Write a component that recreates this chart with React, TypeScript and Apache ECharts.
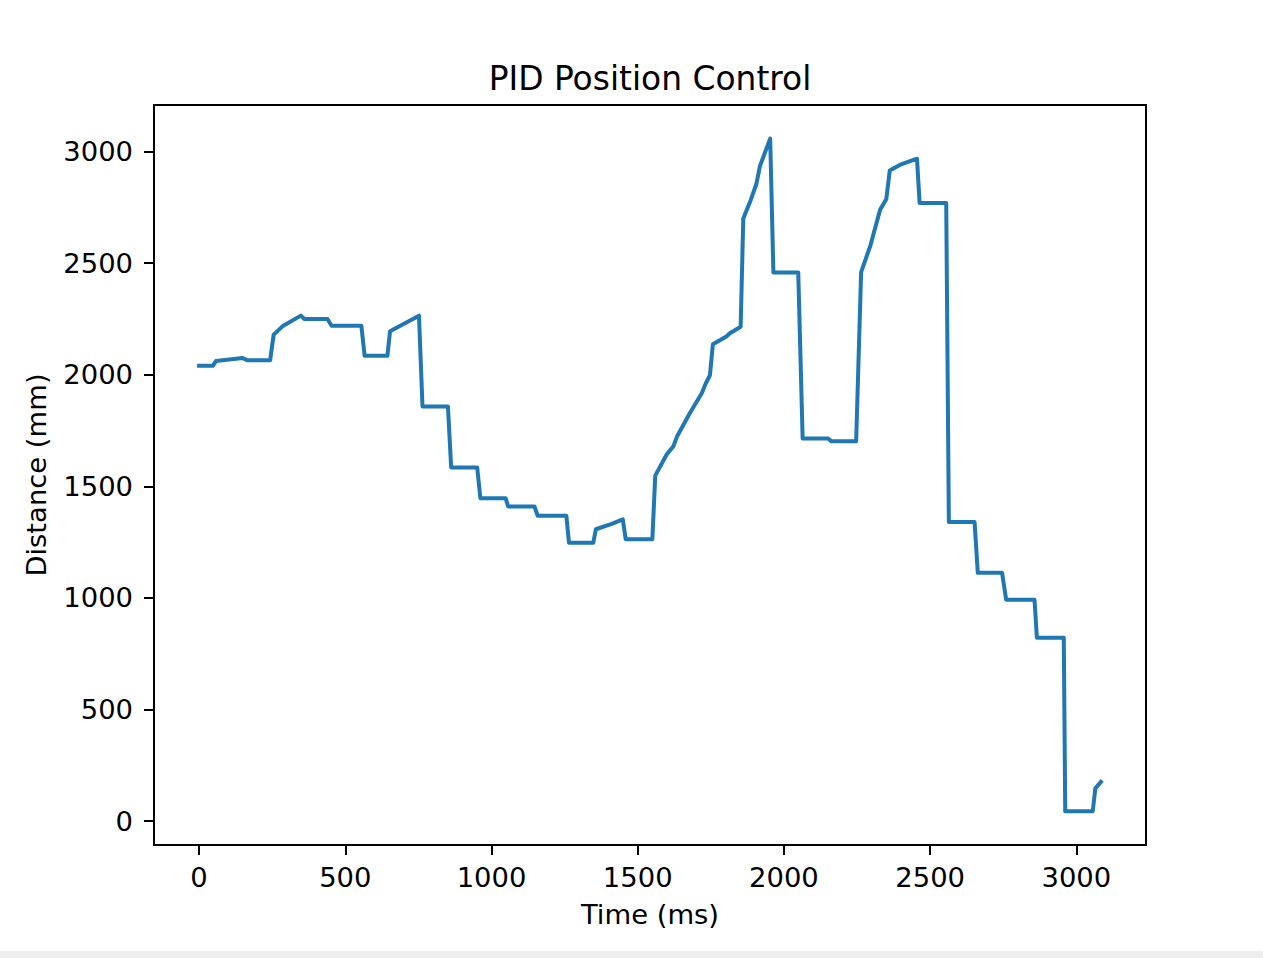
import React, { useEffect, useRef } from "react";
import * as echarts from "echarts";

const chartTitle = "PID Position Control";
const xAxisName = "Time (ms)";
const yAxisName = "Distance (mm)";

const timeMs = [
  0, 47, 58, 149, 164, 243, 255, 285, 348, 360, 439, 453, 555, 566, 644, 653, 712, 752, 764, 851,
  862, 951, 962, 1048, 1057, 1147, 1158, 1256, 1265, 1348, 1357, 1411, 1449, 1459, 1550, 1560,
  1599, 1622, 1634, 1679, 1719, 1733, 1747, 1757, 1803, 1814, 1852, 1861, 1886, 1906, 1918, 1953,
  1964, 2049, 2064, 2151, 2162, 2247, 2264, 2296, 2329, 2350, 2362, 2396, 2455, 2464, 2555, 2564,
  2652, 2663, 2746, 2760, 2857, 2865, 2957, 2962, 3056, 3065, 3084,
];

const distanceMm = [
  2040, 2040, 2062, 2075, 2065, 2065, 2180, 2217, 2265, 2250, 2250, 2220, 2220, 2085, 2085, 2195,
  2236, 2265, 1858, 1858, 1585, 1585, 1447, 1447, 1410, 1410, 1368, 1368, 1247, 1247, 1308, 1332,
  1352, 1263, 1263, 1548, 1643, 1680, 1722, 1830, 1917, 1962, 1998, 2137, 2171, 2185, 2215, 2700,
  2781, 2856, 2935, 3058, 2458, 2458, 1715, 1715, 1702, 1702, 2460, 2580, 2740, 2786, 2915, 2940,
  2968, 2770, 2770, 1340, 1340, 1113, 1113, 992, 992, 822, 822, 44, 44, 147, 176,
];

const xTicks = [0, 500, 1000, 1500, 2000, 2500, 3000];
const yTicks = [0, 500, 1000, 1500, 2000, 2500, 3000];

const FONT = '"DejaVu Sans", "Liberation Sans", sans-serif';

function paddedExtent(values: number[]): [number, number] {
  const mn = Math.min(...values);
  const mx = Math.max(...values);
  const p = (mx - mn) * 0.05;
  return [mn - p, mx + p];
}

export default function App() {
  const ref = useRef<HTMLDivElement>(null);

  useEffect(() => {
    if (!ref.current) return;
    const chart = echarts.init(ref.current, null, { renderer: "svg" });
    const data = timeMs.map((t, i) => [t, distanceMm[i]]);
    const [xMin, xMax] = paddedExtent(timeMs);
    const [yMin, yMax] = paddedExtent(distanceMm);

    const tickLabel = {
      color: "#000",
      fontFamily: FONT,
      fontSize: 27.4,
      lineHeight: 27.4,
      formatter: (v: number) => String(v),
    };

    chart.setOption({
      animation: false,
      backgroundColor: "#ffffff",
      grid: {
        left: 154,
        right: 117,
        top: 105,
        bottom: 106,
        show: true,
        borderColor: "#000",
        borderWidth: 2,
        backgroundColor: "transparent",
      },
      graphic: [
        {
          type: "text",
          x: 650,
          y: 78,
          style: {
            text: chartTitle,
            fontFamily: FONT,
            fontSize: 32.9,
            fill: "#000",
            align: "center",
            verticalAlign: "middle",
          },
        },
      ],
      xAxis: {
        type: "value",
        min: xMin,
        max: xMax,
        position: "bottom",
        name: xAxisName,
        nameLocation: "middle",
        nameGap: 56,
        nameTextStyle: { color: "#000", fontFamily: FONT, fontSize: 27.4, lineHeight: 27.4 },
        axisLine: { show: false, onZero: false },
        axisTick: {
          show: true,
          inside: false,
          length: 10,
          lineStyle: { color: "#000", width: 2 },
          customValues: xTicks,
        },
        axisLabel: { ...tickLabel, margin: 19, customValues: xTicks },
        splitLine: { show: false },
      },
      yAxis: {
        type: "value",
        min: yMin,
        max: yMax,
        position: "left",
        name: yAxisName,
        nameLocation: "middle",
        nameGap: 104,
        nameTextStyle: { color: "#000", fontFamily: FONT, fontSize: 27.4, lineHeight: 27.4 },
        axisLine: { show: false, onZero: false },
        axisTick: {
          show: true,
          inside: false,
          length: 10,
          lineStyle: { color: "#000", width: 2 },
          customValues: yTicks,
        },
        axisLabel: { ...tickLabel, margin: 21, customValues: yTicks },
        splitLine: { show: false },
      },
      series: [
        {
          type: "line",
          data,
          showSymbol: false,
          symbol: "none",
          lineStyle: { color: "#1f77b4", width: 4, join: "round", cap: "square" },
          itemStyle: { color: "#1f77b4" },
        },
      ],
    });

    return () => chart.dispose();
  }, []);

  return (
    <div
      style={{
        position: "absolute",
        left: 0,
        top: 0,
        width: 1263,
        height: 958,
        background: "#eeeeee",
      }}
    >
      <div ref={ref} style={{ width: 1263, height: 951, background: "#ffffff" }} />
    </div>
  );
}
